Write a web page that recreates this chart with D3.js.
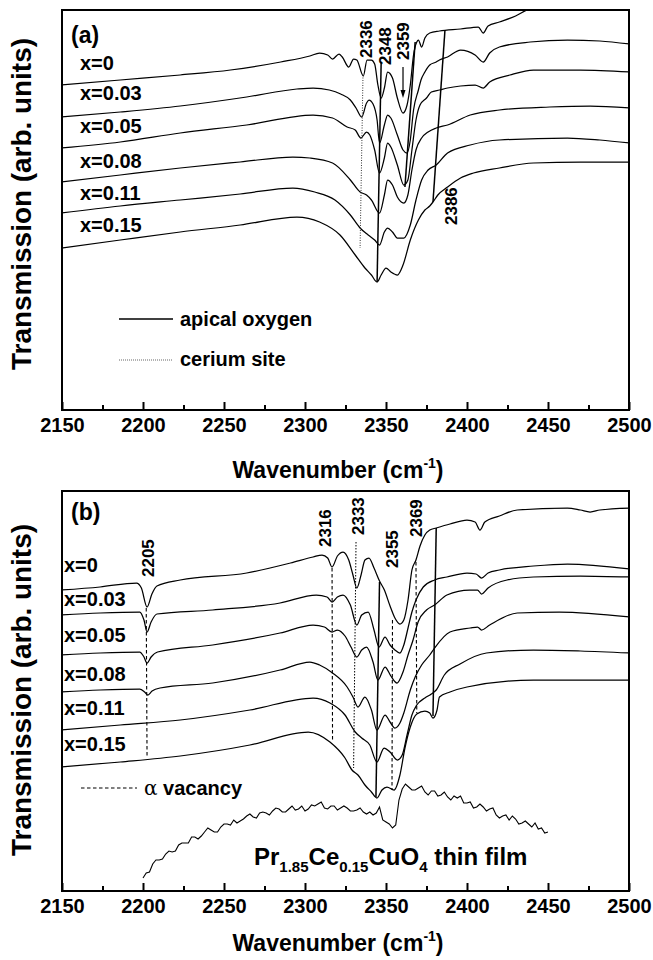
<!DOCTYPE html>
<html>
<head>
<meta charset="utf-8">
<script src="https://cdn.jsdelivr.net/npm/d3@7"></script>
<style>
  body { margin: 0; background: #fff; }
  svg text { font-family: "Liberation Sans", Arial, Helvetica, sans-serif; font-weight: bold; fill: #000; }
</style>
</head>
<body>
<svg id="chart" width="653" height="960"></svg>
<script>
// ---------- axis values ----------
const wavenumberTicks = [2150, 2200, 2250, 2300, 2350, 2400, 2450, 2500];
const wavenumberMinor = [2175, 2225, 2275, 2325, 2375, 2425, 2475];
const compositions = ["x=0", "x=0.03", "x=0.05", "x=0.08", "x=0.11", "x=0.15"];

// ---------- panel (a): transmission spectra, [wavenumber (cm-1), transmission (arb.)] ----------
const specA_x000 = [[2150,325],[2186,330],[2223,335],[2254,340],[2285,348],[2303,354],[2309,357],[2314,355],[2317,351],[2321,356],[2323,353],[2327,343],[2330,351],[2332,350],[2336,334],[2338.3,350],[2341,350],[2343,346],[2345,325],[2347,312],[2349,322],[2351,338],[2354,332],[2357,312],[2360.5,297],[2363,305],[2365,325],[2367,355],[2369,368],[2370,370],[2372,363],[2374,372],[2377,377],[2383,379],[2396,381],[2407,383],[2410,377],[2413,384],[2420,388],[2430,394],[2437,400],[2448,406]];
const specA_x003 = [[2150,293],[2186,298],[2223,304],[2264,313],[2295,321],[2305,322],[2315,320],[2322,316],[2328,310],[2331.5,302],[2335,293],[2338,307],[2339.5,310],[2342,306],[2344.5,290],[2346,267],[2349,285],[2351,295],[2353,292],[2357,275],[2360.5,260],[2363,257],[2365,270],[2367,300],[2370,320],[2371.6,330],[2374,338],[2377,345],[2381,348],[2383,350],[2388,353],[2396,360],[2405,355],[2410,348],[2414,357],[2420,363],[2439,368],[2462,370],[2482,369],[2500,366]];
const specA_x005 = [[2150,262],[2186,268],[2223,277],[2264,285],[2305,295],[2317,292],[2326,283],[2331,280],[2334.5,272],[2338,278],[2340,275],[2343,260],[2346,237],[2349,252],[2351,267],[2353,263],[2357,245],[2361,225],[2363.5,230],[2366,260],[2368.5,290],[2371,305],[2375,312],[2378,318],[2383,320],[2388,322],[2396,324],[2405,325],[2410,322],[2414,328],[2426.5,335],[2441,340],[2470,340],[2500,338]];
const specA_x008 = [[2150,228],[2186,235],[2223,242],[2260,248],[2292.5,253],[2303,252],[2317,247],[2328,230],[2334,218],[2338,215],[2341,210],[2346,197],[2349,215],[2351,230],[2354,225],[2357,213],[2361,207],[2363.5,215],[2366,240],[2368.5,260],[2372,272],[2376,278],[2381,282],[2388,285],[2402,295],[2420,300],[2451,303],[2476,304],[2500,302]];
const specA_x011 = [[2150,197],[2186,204],[2223,210],[2260,216],[2292.5,222],[2306,218],[2318.5,210],[2328,195],[2334,182],[2339,175],[2343,170],[2346,165],[2349,178],[2351,182],[2354,178],[2357,172],[2361,172],[2365,185],[2368.5,210],[2372,230],[2376,240],[2381,245],[2388,257],[2402,265],[2420,270],[2462,272],[2482,270],[2500,267]];
const specA_x015 = [[2150,162],[2186,170],[2223,178],[2260,185],[2295,193],[2309,188],[2321.6,175],[2331,155],[2337,142],[2341,135],[2344.5,128],[2347,135],[2350,142],[2353,138],[2357,135],[2360.5,145],[2365,170],[2370,190],[2374,200],[2377,204],[2379,208],[2382,215],[2388,223],[2396,232],[2404,237],[2420,242],[2441,247],[2470,248],[2500,248]];

// guide lines: [w top, T top, w bottom, T bottom]
const apicalLinesA = [[2347,347,2344.5,128],[2368,368,2361.7,223],[2386.4,380,2379,208]];
const ceriumLinesA = [[2335.8,335,2334,162]];
const peakLabelsA = [2336, 2348, 2359, 2386];
const arrowA = [2360.5, 343, 312];

// ---------- panel (b) ----------
const specB_x000 = [[2150,301],[2173.5,304],[2196,308],[2199,303],[2202.5,284],[2205.5,297],[2208.6,305],[2223,311],[2264,318],[2291,328],[2305,334],[2310.5,336],[2314,333],[2316.7,324],[2320,335],[2323.5,339],[2327,331],[2329.6,316],[2332,303],[2334.6,316],[2337,331],[2339.5,333],[2342.6,323],[2346,310],[2349,301],[2352.5,285],[2355.5,273],[2358.6,267],[2361,271],[2363.6,291],[2366,321],[2368.5,331],[2371,345],[2374,356],[2377,361],[2381,363],[2389.5,367],[2400,371],[2405,369],[2408,361],[2411,369],[2420,375],[2431,381],[2462,383],[2470,381],[2476,379],[2482,381],[2500,383]];
const specB_x003 = [[2150,276],[2173.5,278],[2198,279],[2200.6,271],[2202.5,259],[2205,269],[2208.6,277],[2243,281],[2284.6,288],[2307,296],[2313.6,294],[2316.7,289],[2320,294],[2323.5,296],[2328,286],[2332,266],[2335,276],[2339,279],[2342.6,261],[2345.7,244],[2349.4,254],[2352.5,246],[2355.5,241],[2358.6,238],[2361,246],[2363.6,263],[2366,279],[2368.5,291],[2373,304],[2380,311],[2387.6,314],[2400,318],[2405.6,317],[2409,313],[2413,318],[2420,321],[2441,325],[2462,327],[2500,322]];
const specB_x005 = [[2150,236],[2173.5,238],[2198,239],[2200.6,234],[2202.5,228],[2205,234],[2209,239],[2243,246],[2284.6,258],[2305,266],[2312,264],[2316.7,259],[2320,261],[2324.7,255],[2328.4,244],[2332,234],[2335,241],[2338,244],[2342,229],[2345,211],[2349.4,224],[2353,215],[2356.8,208],[2360.5,219],[2363.6,236],[2366.7,251],[2369.8,269],[2375,281],[2380,286],[2387.6,296],[2401.6,301],[2406.5,301],[2409,297],[2413,303],[2424.7,311],[2441,314],[2470,315],[2500,314]];
const specB_x008 = [[2150,199],[2173.5,201],[2198,202],[2201,199],[2203,196],[2205.6,200],[2210.5,203],[2243,208],[2284.6,221],[2303,229],[2309,226],[2317,218],[2326,204],[2329.6,194],[2332.7,184],[2337,194],[2341,181],[2344.4,161],[2349.4,176],[2352.5,169],[2355.5,163],[2358.6,168],[2361,178],[2365,201],[2368,214],[2372,226],[2377,236],[2380,243],[2389.5,259],[2402,263],[2406.5,264],[2409,261],[2414,266],[2431,278],[2457,279],[2500,274]];
const specB_x011 = [[2150,161],[2186,166],[2223,171],[2266,181],[2305,193],[2315.4,188],[2324.7,176],[2331,159],[2335,153],[2340,146],[2344.4,129],[2348.8,143],[2352.5,139],[2357,131],[2360,136],[2363,156],[2366,176],[2369,186],[2374,193],[2378,197],[2381,201],[2386,216],[2395.7,227],[2412,238],[2441,241],[2470,240],[2500,238]];
const specB_x015 = [[2150,124],[2186,129],[2223,135],[2266,146],[2302,159],[2315.4,149],[2324.7,133],[2329,121],[2332.7,116],[2337,106],[2341,99],[2344.4,93],[2347.5,101],[2350.6,104],[2355,101],[2358.6,116],[2361.7,143],[2365,164],[2369,177],[2374,180],[2377,178],[2379,173],[2381.5,181],[2383,194],[2389.5,199],[2400,204],[2441,211],[2470,211],[2500,211]];

// thin-film reference spectrum, sampled every 2 cm-1 from 2200 to 2450
const filmStart = 2200, filmStep = 2;
const filmValues = [13,18,19,27,31,31,32,37,40,39,40,46,48,48,48,54,54,52,55,59,63,61,59,59,64,67,67,66,71,68,70,72,75,77,74,73,78,79,78,76,80,83,82,79,79,82,85,81,82,85,80,82,86,85,87,89,83,82,85,85,81,83,85,83,80,80,81,83,79,77,79,76,78,84,71,69,67,63,66,91,102,107,104,101,101,103,105,99,96,100,100,95,96,99,94,91,95,93,95,88,88,89,83,84,87,84,80,82,83,76,73,75,76,71,75,72,67,68,70,67,64,68,62,63,58,59];

const apicalLinesB = [[2346,309,2343.8,94],[2381,363,2379,175]];
const vacancyLinesB = [[2202,283,2202.5,133],[2316.7,323,2317,149],[2354,271,2353.7,101],[2368.5,329,2369,178]];
const fineLinesB = [[2331.5,349,2330,123]];
const peakLabelsB = [2205, 2316, 2333, 2355, 2369];

// ---------- layout ----------
const svg = d3.select("#chart");
const x = d3.scaleLinear().domain([2150, 2500]).range([62, 629]);

const panels = [
  { tag: "(a)", top: 10, bottom: 410, tickBase: 433, titleBase: 478, yTitleMid: 204,
    series: [specA_x000, specA_x003, specA_x005, specA_x008, specA_x011, specA_x015],
    labelX: 80, labelBase: [70, 100, 133, 168, 200, 232] },
  { tag: "(b)", top: 491, bottom: 891, tickBase: 915, titleBase: 951, yTitleMid: 690,
    series: [specB_x000, specB_x003, specB_x005, specB_x008, specB_x011, specB_x015],
    labelX: 64, labelBase: [572, 606, 642, 681, 715, 751] }
];

panels.forEach((p, pi) => {
  const y = d3.scaleLinear().domain([0, 400]).range([p.bottom, p.top]);
  p.y = y;
  const g = svg.append("g");

  const clipId = "clip" + pi;
  svg.append("clipPath").attr("id", clipId).append("rect")
    .attr("x", 62).attr("y", p.top).attr("width", 567).attr("height", p.bottom - p.top);

  // spectra
  const line = d3.line().x(d => x(d[0])).y(d => y(d[1])).curve(d3.curveMonotoneX);
  g.append("g").attr("clip-path", `url(#${clipId})`)
    .selectAll("path").data(p.series).join("path")
    .attr("d", line).attr("fill", "none").attr("stroke", "#000").attr("stroke-width", 1.25);

  // composition labels
  g.selectAll("text.comp").data(compositions).join("text")
    .attr("class", "comp").attr("x", p.labelX).attr("y", (d, i) => p.labelBase[i])
    .attr("font-size", 20).text(d => d);

  // panel tag
  g.append("text").attr("x", 71).attr("y", pi === 0 ? 43 : 520).attr("font-size", 23).text(p.tag);

  // bottom axis: major and minor ticks pointing inward
  const major = d3.axisBottom(x).tickValues(wavenumberTicks).tickSizeInner(-8).tickSizeOuter(0)
    .tickPadding(8).tickFormat(d3.format("d"));
  const ax = g.append("g").attr("transform", `translate(0,${p.bottom})`).call(major);
  ax.select(".domain").remove();
  ax.attr("font-family", null);
  ax.selectAll("line").attr("stroke", "#000").attr("stroke-width", 2);
  ax.selectAll("text").attr("font-size", 20).attr("dy", "0.71em");
  const minor = d3.axisBottom(x).tickValues(wavenumberMinor).tickSizeInner(-5).tickSizeOuter(0).tickFormat("");
  const mx = g.append("g").attr("transform", `translate(0,${p.bottom})`).call(minor);
  mx.select(".domain").remove();
  mx.selectAll("line").attr("stroke", "#000").attr("stroke-width", 2);

  // frame
  g.append("rect").attr("x", 62).attr("y", p.top).attr("width", 567).attr("height", p.bottom - p.top)
    .attr("fill", "none").attr("stroke", "#000").attr("stroke-width", 2);

  // axis titles
  const xt = g.append("text").attr("x", 338).attr("y", p.titleBase).attr("text-anchor", "middle").attr("font-size", 23);
  xt.append("tspan").text("Wavenumber (cm");
  xt.append("tspan").attr("font-size", 14).attr("dy", -10).text("-1");
  xt.append("tspan").attr("dy", 10).text(")");

  g.append("text").attr("transform", `translate(31,${p.yTitleMid}) rotate(-90)`)
    .attr("text-anchor", "middle").attr("font-size", 27)
    .attr("textLength", 332).attr("lengthAdjust", "spacingAndGlyphs")
    .text("Transmission (arb. units)");
});

// ---------- panel (a) annotations ----------
(function () {
  const y = panels[0].y;
  const g = svg.append("g");
  g.selectAll("line.ce").data(ceriumLinesA).join("line")
    .attr("x1", d => x(d[0])).attr("y1", d => y(d[1])).attr("x2", d => x(d[2])).attr("y2", d => y(d[3]))
    .attr("stroke", "#333").attr("stroke-width", 1).attr("stroke-dasharray", "1,1.5");
  g.selectAll("line.ap").data(apicalLinesA).join("line")
    .attr("x1", d => x(d[0])).attr("y1", d => y(d[1])).attr("x2", d => x(d[2])).attr("y2", d => y(d[3]))
    .attr("stroke", "#000").attr("stroke-width", 1.5);

  // rotated peak labels: horizontal nudge and bottom end (px)
  const labelNudge = [3, 2, 2, 7];
  const labelFoot = [58, 65, 60, 225];
  g.selectAll("text.pk").data(peakLabelsA).join("text")
    .attr("transform", (d, i) => `translate(${x(d) + labelNudge[i]},${labelFoot[i]}) rotate(-90)`)
    .attr("dy", "0.36em").attr("font-size", 17).text(d => d);

  // arrow pointing at the 2359 band
  const ax = x(arrowA[0]);
  g.append("line").attr("x1", ax).attr("x2", ax).attr("y1", y(arrowA[1])).attr("y2", y(arrowA[2]) - 6)
    .attr("stroke", "#000").attr("stroke-width", 1.2);
  g.append("path").attr("d", `M${ax - 2.5},${y(arrowA[2]) - 8}L${ax + 2.5},${y(arrowA[2]) - 8}L${ax},${y(arrowA[2])}Z`)
    .attr("fill", "#000");

  // legend
  g.append("line").attr("x1", 119).attr("x2", 173).attr("y1", 319).attr("y2", 319)
    .attr("stroke", "#000").attr("stroke-width", 1.5);
  g.append("text").attr("x", 180).attr("y", 326).attr("font-size", 20).text("apical oxygen");
  g.append("line").attr("x1", 119).attr("x2", 173).attr("y1", 360).attr("y2", 360)
    .attr("stroke", "#666").attr("stroke-width", 1).attr("stroke-dasharray", "1,1");
  g.append("text").attr("x", 180).attr("y", 366).attr("font-size", 20).text("cerium site");
})();

// ---------- panel (b) annotations ----------
(function () {
  const y = panels[1].y;
  const g = svg.append("g");
  const seg = sel => sel.attr("x1", d => x(d[0])).attr("y1", d => y(d[1])).attr("x2", d => x(d[2])).attr("y2", d => y(d[3]));

  seg(g.selectAll("line.vac").data(vacancyLinesB).join("line"))
    .attr("stroke", "#000").attr("stroke-width", 1.1).attr("stroke-dasharray", "3.5,2.5");
  seg(g.selectAll("line.fine").data(fineLinesB).join("line"))
    .attr("stroke", "#000").attr("stroke-width", 1).attr("stroke-dasharray", "1.5,1.5");
  seg(g.selectAll("line.ap").data(apicalLinesB).join("line"))
    .attr("stroke", "#000").attr("stroke-width", 1.5);

  // thin-film spectrum
  const film = filmValues.map((v, i) => [filmStart + i * filmStep, v]);
  g.append("path").datum(film)
    .attr("d", d3.line().x(d => x(d[0])).y(d => y(d[1])))
    .attr("fill", "none").attr("stroke", "#000").attr("stroke-width", 1.1);

  const labelNudge = [-3.5, -6, -1, -2, -1];
  const labelFoot = [577, 547, 535, 568, 537];
  g.selectAll("text.pk").data(peakLabelsB).join("text")
    .attr("transform", (d, i) => `translate(${x(d) + labelNudge[i]},${labelFoot[i]}) rotate(-90)`)
    .attr("dy", "0.36em").attr("font-size", 17).text(d => d);

  // legend
  g.append("line").attr("x1", 81).attr("x2", 137).attr("y1", 788).attr("y2", 788)
    .attr("stroke", "#000").attr("stroke-width", 1.1).attr("stroke-dasharray", "3.5,2.5");
  const lt = g.append("text").attr("x", 144).attr("y", 795).attr("font-size", 20);
  lt.append("tspan").attr("font-weight", "normal").attr("font-family", "'DejaVu Serif', serif").text("α");
  lt.append("tspan").text(" vacancy");

  // sample label
  const t = g.append("text").attr("x", 254).attr("y", 865).attr("font-size", 24);
  t.append("tspan").text("Pr");
  t.append("tspan").attr("font-size", 15).attr("dy", 7).text("1.85");
  t.append("tspan").attr("dy", -7).text("Ce");
  t.append("tspan").attr("font-size", 15).attr("dy", 7).text("0.15");
  t.append("tspan").attr("dy", -7).text("CuO");
  t.append("tspan").attr("font-size", 15).attr("dy", 7).text("4");
  t.append("tspan").attr("dy", -7).text(" thin film");
})();
</script>
</body>
</html>
